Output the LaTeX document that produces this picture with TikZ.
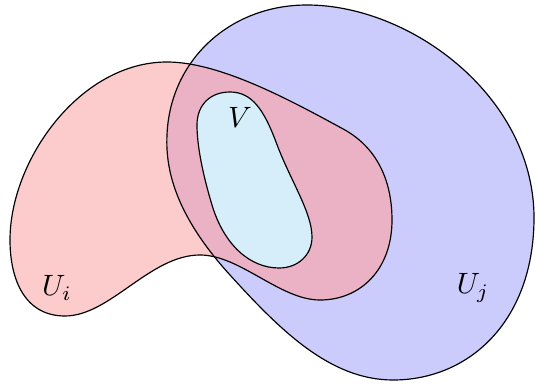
\documentclass[tikz,border=0pt]{standalone}
\usepackage{amsmath,amssymb}
\definecolor{ujfill}{RGB}{204,204,252}
\definecolor{uifill}{RGB}{252,203,203}
\definecolor{bothfill}{RGB}{235,178,197}
\definecolor{vfill}{RGB}{214,238,250}
\begin{document}
\begin{tikzpicture}[x=0.34pt, y=-0.34pt, every node/.style={font=\normalsize}]
	\useasboundingbox (0,0) rectangle (535,384);
	% outlines of the three sets
	\def\uj{(307,5) .. controls (410,5) and (532,95) .. (534,215) .. controls (535,320) and (470,380) .. (393,380) .. controls (330,380) and (280,330) .. (230,275) .. controls (180,220) and (165,175) .. (167,135) .. controls (170,60) and (230,5) .. cycle}
	\def\ui{(167,62) .. controls (220,62) and (290,100) .. (345,130) .. controls (380,150) and (392,185) .. (392,220) .. controls (392,270) and (360,300) .. (320,300) .. controls (280,300) and (240,255) .. (200,255) .. controls (150,255) and (110,316) .. (65,316) .. controls (25,316) and (10,280) .. (10,240) .. controls (10,160) and (80,62) .. cycle}
	\def\vv{(230,92) .. controls (252,92) and (264,110) .. (276,142) .. controls (290,180) and (312,212) .. (312,237) .. controls (312,255) and (298,268) .. (279,268) .. controls (250,268) and (224,245) .. (212,205) .. controls (200,165) and (197,140) .. (197,125) .. controls (197,105) and (210,92) .. cycle}
	\fill[ujfill] \uj;
	\fill[uifill] \ui;
	\begin{scope}
		\clip \uj;
		\fill[bothfill] \ui;
	\end{scope}
	\fill[vfill] \vv;
	\draw \uj;
	\draw \ui;
	\draw \vv;
	\node (ui) at (57,288) {$U_i$};
	\node (uj) at (473,288) {$U_j$};
	\node (v) at (240,117) {$V$};
\end{tikzpicture}
\end{document}
